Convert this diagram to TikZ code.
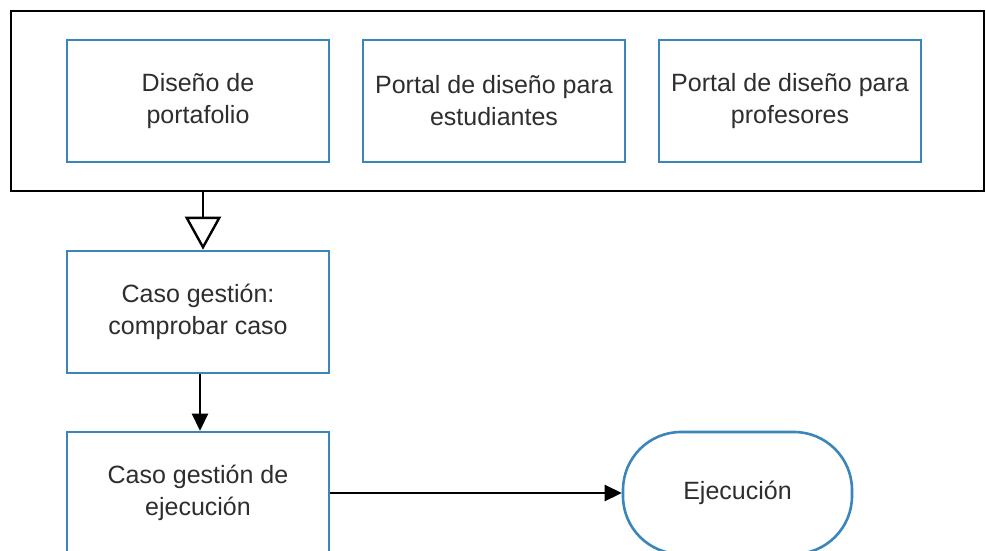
\documentclass[tikz,border=0pt]{standalone}
\usepackage{fontspec}
\setmainfont{Liberation Sans}
\usetikzlibrary{arrows.meta}
\definecolor{boxblue}{HTML}{3A86BA}
\definecolor{txt}{HTML}{2E2E2E}
\begin{document}
\begin{tikzpicture}[x=1pt,y=-1pt,
  bluebox/.style={draw=boxblue,line width=2.6pt,fill=white,minimum width=262pt,minimum height=122pt,
    align=center,text=txt,font=\fontsize{25}{32}\selectfont,inner sep=0pt},
  outer/.style={draw=black,line width=2.7pt,minimum width=973pt,minimum height=180pt,inner sep=0pt},
  stadium/.style={draw=boxblue,line width=2.6pt,fill=white,rounded corners=58pt,minimum width=229pt,minimum height=122pt,
    align=center,text=txt,font=\fontsize{25}{32}\selectfont,inner sep=0pt},
  conn/.style={draw=black,line width=2.6pt}]
\useasboundingbox (0,0) rectangle (986,551);
\node[outer] (frame) at (497.5,101) {};
\node[bluebox] (b1) at (198,101) {Diseño de\\portafolio};
\node[bluebox] (b2) at (494,101) {Portal de diseño para\\estudiantes};
\node[bluebox] (b3) at (790,101) {Portal de diseño para\\profesores};
\node[bluebox] (c1) at (198,312) {Caso gestión:\\comprobar caso};
\node[bluebox] (c2) at (198,493) {Caso gestión de\\ejecución};
\node[stadium] (ej) at (737.5,493) {Ejecución};
\coordinate (fs) at (frame.south -| 203,0);
\draw[conn,-{Triangle[open,length=33pt,width=36pt,line width=2.4pt]}] (fs) -- (fs |- c1.north);
\draw[conn,-{Triangle[length=17pt,width=16pt]}] (c1.south -| 200,0) -- (c2.north -| 200,0);
\draw[conn,-{Triangle[length=17pt,width=16pt]}] (c2.east) -- (ej.west);
\end{tikzpicture}
\end{document}
